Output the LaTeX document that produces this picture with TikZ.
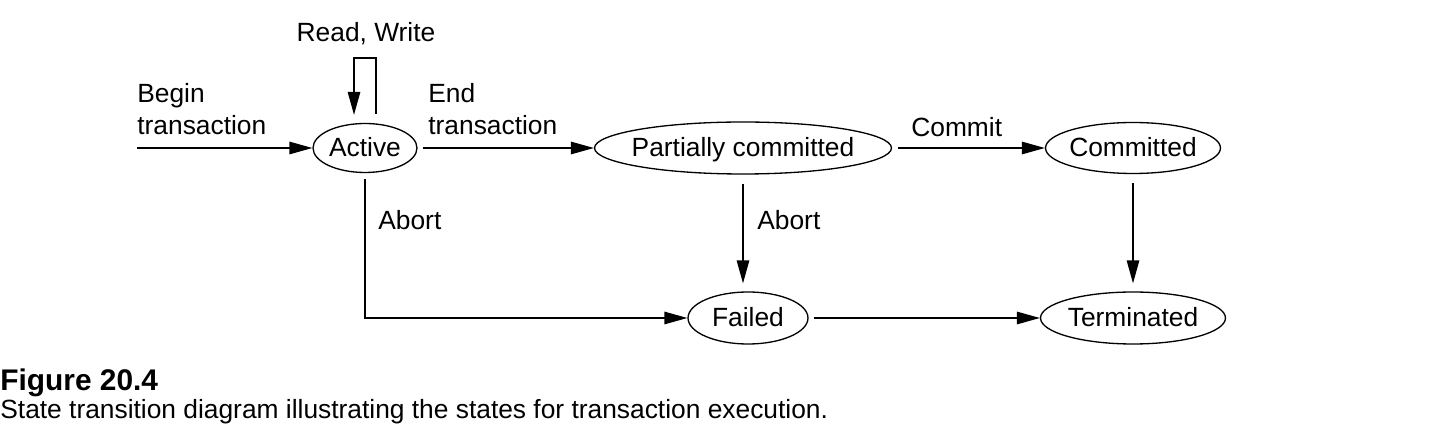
\documentclass[tikz,border=0pt]{standalone}
\usepackage{fontspec}
\setmainfont{Liberation Sans}
\usetikzlibrary{shapes.geometric,arrows.meta}
\begin{document}
\begin{tikzpicture}[x=0.02cm,y=-0.02cm,
  txt/.style={font=\fontsize{15}{18}\selectfont,inner sep=0pt},
  state/.style={ellipse,draw,line width=0.75pt,inner sep=0pt},
  ln/.style={line width=0.75pt},
  arr/.style={ln,-{Triangle[length=0.46cm,width=0.25cm]}}]
\useasboundingbox (0,0) rectangle (1450,445);
% states
\node[state,minimum width=2.08cm,minimum height=0.98cm,label={[txt,yshift=-0.03cm]center:\vphantom{Ag}Active}] (active) at (365,148) {};
\node[state,minimum width=5.94cm,minimum height=1.04cm,label={[txt,yshift=-0.03cm]center:\vphantom{Ag}Partially committed}] (partial) at (743,148) {};
\node[state,minimum width=3.5cm,minimum height=1.02cm,label={[txt,yshift=-0.03cm]center:\vphantom{Ag}Committed}] (committed) at (1133,148) {};
\node[state,minimum width=2.4cm,minimum height=1.04cm,label={[txt,yshift=-0.03cm]center:\vphantom{Ag}Failed}] (failed) at (748,318) {};
\node[state,minimum width=3.7cm,minimum height=1.04cm,label={[txt,yshift=-0.03cm]center:\vphantom{Ag}Terminated}] (terminated) at (1133,318) {};
% free ends
\coordinate (start) at (137,148);
\coordinate (loopR) at (376,58);
\coordinate (loopL) at (354,58);
% labels
\node[txt,anchor=base west] (lbegin) at (137,103) {Begin};
\node[txt,anchor=base west] (lbegint) at (137,135) {transaction};
\node[txt,anchor=base west] (lend) at (428,103) {End};
\node[txt,anchor=base west] (lendt) at (428,135) {transaction};
\node[txt,anchor=base] (lrw) at (366,42) {Read, Write};
\node[txt,anchor=base west] (lcommit) at (911,137) {Commit};
\node[txt,anchor=base west] (labort1) at (378,230) {Abort};
\node[txt,anchor=base west] (labort2) at (757,230) {Abort};
% connectors
\draw[arr] (start) -- (active.west);
\draw[arr,shorten <=0.1cm] (active.east) -- (partial.west);
\draw[arr,shorten <=0.12cm] (partial.east) -- (committed.west);
\draw[arr,shorten <=0.18cm,shorten >=0.16cm] (active.north -| loopR) -- (loopR) -- (loopL) -- (active.north -| loopL);
\draw[arr,shorten <=0.12cm] (active.south) -- (active.south |- failed.west) -- (failed.west);
\draw[arr,shorten <=0.18cm,shorten >=0.16cm] (partial.south) -- (partial.south |- failed.north);
\draw[arr,shorten <=0.18cm,shorten >=0.16cm] (committed.south) -- (terminated.north);
\draw[arr,shorten <=0.1cm] (failed.east) -- (terminated.west);
% caption
\node[inner sep=0pt,anchor=base west,font=\fontsize{17}{20}\bfseries] (figno) at (0,391) {Figure 20.4};
\node[txt,anchor=base west] (caption) at (0,419) {State transition diagram illustrating the states for transaction execution.};
\end{tikzpicture}
\end{document}
